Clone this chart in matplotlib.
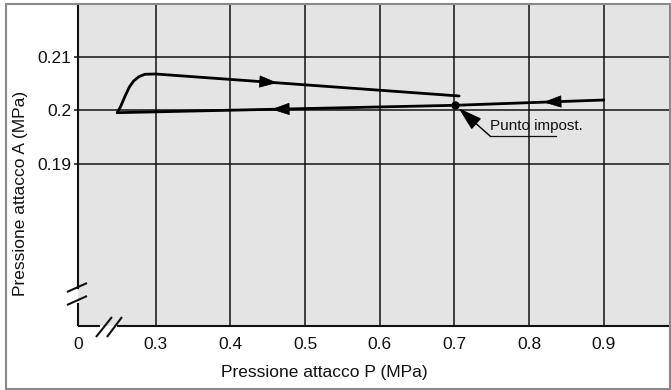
"""
Set-point hysteresis chart: outlet pressure A vs. inlet pressure P.
"""
import numpy as np
import matplotlib
matplotlib.use('Agg')
import matplotlib.pyplot as plt
from matplotlib.patches import Rectangle
from matplotlib.transforms import Affine2D

plt.rcParams['font.family'] = ['Liberation Sans', 'DejaVu Sans']

# Values (MPa)
upper_p = [0.2486, 0.2530, 0.2597, 0.2651, 0.2709, 0.2776, 0.2856, 0.3000, 0.7063]
upper_a = [0.19959, 0.20071, 0.20290, 0.20445, 0.20557, 0.20632, 0.20677, 0.20682, 0.20271]
lower_p = [0.900, 0.7013, 0.2486]
lower_a = [0.20196, 0.20097, 0.19959]
set_p, set_a = 0.7013, 0.20097

# flow arrows: x of the tip on each branch
arrow_upper = [0.463]
arrow_lower = [0.819, 0.455]

x_ticks = [0.3, 0.4, 0.5, 0.6, 0.7, 0.8, 0.9]
x_labels = ['0.3', '0.4', '0.5', '0.6', '0.7', '0.8', '0.9']
y_ticks = [0.19, 0.20, 0.21]
y_labels = ['0.19', '0.2', '0.21']

# broken x axis: "0" sits one compressed step left of 0.3
zero_pos = 0.196

GRAY_BG = '#e4e4e4'
INK = '#111111'

fig = plt.figure(figsize=(6.71, 3.90), dpi=100)
fig.add_artist(Rectangle((0.0089, 0.0026), 0.9896, 0.9872, transform=fig.transFigure,
                         fill=False, edgecolor='#8a8a8a', lw=1.5))

ax = fig.add_axes([0.1162, 0.1641, 0.8838, 0.8256])
ax.set_facecolor(GRAY_BG)
ax.set_xlim(zero_pos, 0.99)
ax.set_ylim(0.15972, 0.2199)

for s in ax.spines.values():
    s.set_visible(False)

# grid
for x in x_ticks:
    ax.axvline(x, color=INK, lw=1.1, zorder=1)
for y in y_ticks:
    ax.axhline(y, color=INK, lw=1.1, zorder=1)

# left / bottom axes with break marks
ta = ax.transAxes
kw = dict(color=INK, lw=1.5, transform=ta, clip_on=False, zorder=5, solid_capstyle='butt')
ax.plot([0, 0], [1, 0.116], **kw)
ax.plot([0, 0], [0.072, 0], **kw)
ax.plot([0, 0.037], [0, 0], **kw)
ax.plot([0.066, 1], [0, 0], **kw)
ax.plot([-0.0186, 0.0152], [0.1056, 0.1335], **kw)
ax.plot([-0.0186, 0.0152], [0.0652, 0.0932], **kw)
ax.plot([0.0304, 0.0573], [-0.0342, 0.028], **kw)
ax.plot([0.0489, 0.0742], [-0.0342, 0.028], **kw)

ax.set_xticks([zero_pos] + x_ticks)
ax.set_xticklabels(['0'] + x_labels)
ax.set_yticks(y_ticks)
ax.set_yticklabels(y_labels)
ax.tick_params(axis='x', length=0, pad=8, labelsize=12.5, colors=INK)
ax.tick_params(axis='y', length=3, width=1.1, pad=2, labelsize=12.5, colors=INK)

# curves
ax.plot(upper_p, upper_a, color='black', lw=2.0, zorder=3,
        solid_joinstyle='round', solid_capstyle='round')
ax.plot(lower_p, lower_a, color='black', lw=2.0, zorder=3, solid_capstyle='round')
ax.plot([set_p], [set_a], 'o', color='black', ms=5, zorder=4)

head = dict(arrowstyle='-|>,head_length=1.0,head_width=0.34', color='black',
            lw=0.5, mutation_scale=12, shrinkA=0, shrinkB=0)
for xt in arrow_upper:
    yt = np.interp(xt, upper_p, upper_a)
    ax.annotate('', xy=(xt, yt), xytext=(xt - 0.02, np.interp(xt - 0.02, upper_p, upper_a)),
                arrowprops=head, zorder=4)
lp, la = lower_p[::-1], lower_a[::-1]
for xt in arrow_lower:
    yt = np.interp(xt, lp, la)
    ax.annotate('', xy=(xt, yt), xytext=(xt + 0.02, np.interp(xt + 0.02, lp, la)),
                arrowprops=head, zorder=4)

# "Punto impost." call-out with leader and underline
ax.annotate('', xy=(set_p, set_a), xytext=(35, -31), textcoords='offset pixels',
            arrowprops=dict(arrowstyle='-|>,head_length=1.5,head_width=0.45', color='black',
                            lw=1.0, mutation_scale=10, shrinkA=0, shrinkB=3), zorder=4)
ax.annotate('Punto impost.', xy=(set_p, set_a), xytext=(35, -28), textcoords='offset pixels',
            ha='left', va='bottom', fontsize=11, color=INK)
px, py = ax.transData.transform((set_p, set_a))
ax.plot([35, 101], [-31, -31], color=INK, lw=0.9, clip_on=False,
        transform=Affine2D().translate(px, py), zorder=4)

fig.text(324.5 / 671, 1 - 373 / 390, 'Pressione attacco P (MPa)', ha='center', va='center',
         fontsize=12.5, color=INK)
fig.text(21 / 671, 1 - 193 / 390, 'Pressione attacco A (MPa)', ha='center', va='center',
         rotation=90, fontsize=12.5, color=INK)

fig.savefig('out.png', dpi=100)
